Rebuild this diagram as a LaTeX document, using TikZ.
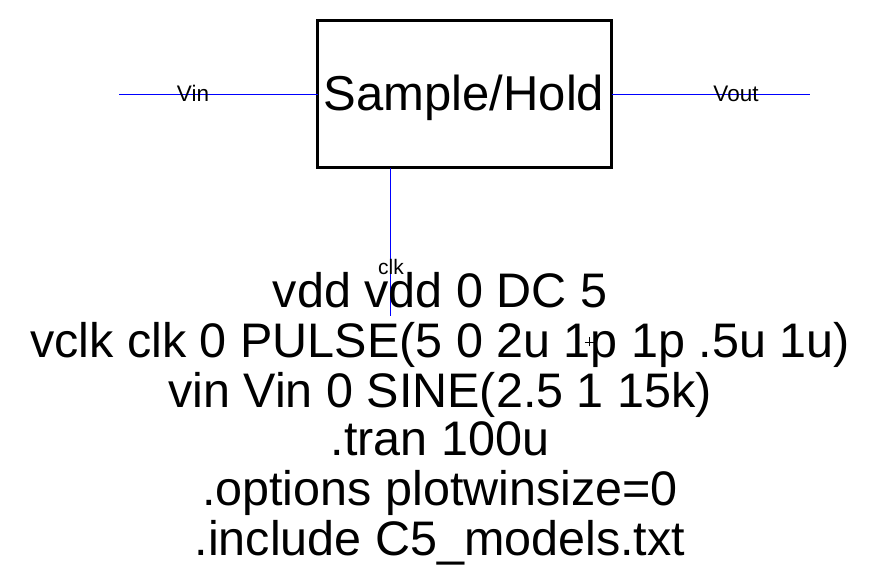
\documentclass[tikz,border=0pt]{standalone}
\usepackage{fontspec}
\setmainfont{Liberation Sans}
\begin{document}
\begin{tikzpicture}[x=1pt,y=-1pt,
  wire/.style={draw=blue,line width=1pt},
  blockbox/.style={draw=black,line width=3pt,minimum width=294pt,minimum height=147pt,inner sep=0pt,outer sep=0pt},
  netlabel/.style={anchor=base,inner sep=0pt,font=\fontsize{22.5}{26}\selectfont},
  cmdline/.style={anchor=base,inner sep=0pt,font=\fontsize{48.5}{52}\selectfont}]
\useasboundingbox (0,0) rectangle (887,572);
\node[blockbox] (sh) at (464.5,94.3) {};
\node[anchor=base,inner sep=0pt,font=\fontsize{49}{56}\selectfont] (shlabel) at (464,111) {Sample/Hold};
\coordinate (vinend) at (119,94.3);
\coordinate (voutend) at (810,94.3);
\coordinate (clkend) at (390.3,316);
\draw[wire] (vinend) -- (sh.west);
\draw[wire] (sh.east) -- (voutend);
\draw[wire] (clkend |- sh.south) -- (clkend);
\node[netlabel] (vinlab) at (193,102) {Vin};
\node[netlabel] (voutlab) at (736,102) {Vout};
\node[anchor=base,inner sep=0pt,font=\fontsize{21}{24}\selectfont] (clklab) at (391,275) {clk};
\node[cmdline] (l1) at (440,308) {vdd vdd 0 DC 5};
\node[cmdline] (l2) at (440,357) {vclk clk 0 PULSE(5 0 2u 1p 1p .5u 1u)};
\node[cmdline] (l3) at (440,407) {vin Vin 0 SINE(2.5 1 15k)};
\node[cmdline] (l4) at (440,455) {.tran 100u};
\node[cmdline] (l5) at (440,505) {.options plotwinsize=0};
\node[cmdline] (l6) at (440,555) {.include C5\_models.txt};
\coordinate (origin) at (589,342);
\draw[black,line width=0.8pt] ([xshift=-4.5pt]origin) -- ([xshift=4.5pt]origin)
  ([yshift=-4.5pt]origin) -- ([yshift=4.5pt]origin);
\end{tikzpicture}
\end{document}
